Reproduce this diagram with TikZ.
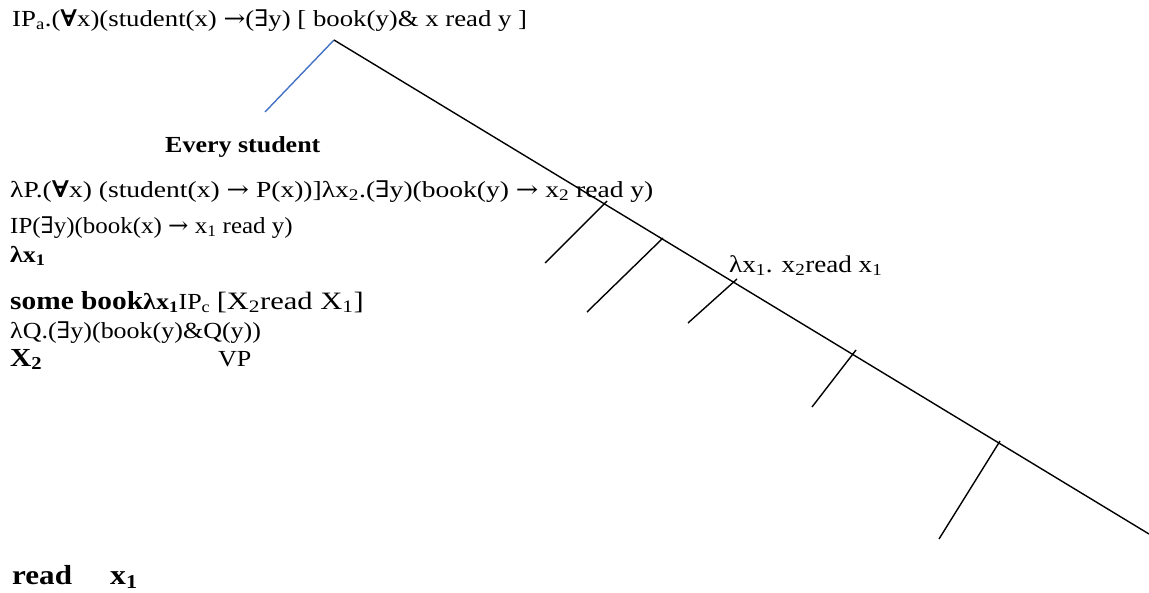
\documentclass[tikz,border=0pt]{standalone}
\usepackage{graphicx}
\usepackage{fontspec}
\setmainfont[FakeStretch=1.13]{Liberation Serif}
\newfontfamily\symf[FakeStretch=1.1]{DejaVu Serif}
\newcommand{\fa}{{\symf\bfseries ∀}}
\newcommand{\ex}{{\symf ∃}}
\newcommand{\ar}{{\symf →}}
\newcommand{\sbs}[1]{\textsubscript{#1}}
\begin{document}
\begin{tikzpicture}[x=1pt,y=-1pt,
  txt/.style={anchor=base west,inner sep=0pt,font=\fontsize{23}{27}\selectfont},
  big/.style={anchor=base west,inner sep=0pt,font=\fontsize{26}{30}\selectfont\bfseries},
  mainline/.style={line width=1.4pt,black},
  bluel/.style={line width=1.4pt,color={rgb,255:red,68;green,114;blue,196}}]
\useasboundingbox (0,0) rectangle (1149,592);
% texts
\node[txt] (t1) at (12,26) {\scalebox{1.03}[1]{IP\sbs{a}.(\fa x)(student(x) \ar(\ex y) [ book(y)\& x read y ]}};
\node[txt,font=\fontsize{23}{27}\selectfont\bfseries] (t2) at (165,152) {Every student};
\node[txt] (t3) at (10,197) {\scalebox{1.06}[1]{λP.(\fa x) (student(x) \ar{} P(x))]λx\sbs{2}.(\ex y)(book(y) \ar{} x\sbs{2} read y)}};
\node[txt] (t4) at (10,233) {\scalebox{0.96}[1]{IP(\ex y)(book(x) \ar{} x\sbs{1} read y)}};
\node[txt,font=\fontsize{23}{27}\selectfont\bfseries] (t5) at (10,262) {λx\sbs{1}};
\node[big] (t6) at (10,309) {some book{\fontsize{23}{27}\selectfont λx\sbs{1}}{\mdseries\fontsize{23}{27}\selectfont IP\sbs{c} }{\mdseries\fontsize{25}{30}\selectfont\scalebox{1.08}[1]{[X\sbs{2}read X\sbs{1}]}}};
\node[txt] (t7) at (10,338) {λQ.(\ex y)(book(y)\&Q(y))};
\node[big] (t8) at (10,366) {X\sbs{2}};
\node[txt] (t9) at (218,366) {VP};
\node[big,font=\fontsize{27.5}{30}\selectfont\bfseries] (t10) at (12,584) {read};
\node[big,font=\fontsize{28}{30}\selectfont\bfseries] (t11) at (110,584) {x\sbs{1}};
\node[txt,font=\fontsize{24}{28}\selectfont] (t12) at (729,272) {λx\sbs{1}. x\sbs{2}read x\sbs{1}};
% tree
\coordinate (apex) at (334,40);
\coordinate (bl) at (265,112);
\coordinate (end) at (1149,534);
\coordinate (b1t) at (607,201);
\coordinate (b1b) at (545,263);
\coordinate (b2t) at (663,238);
\coordinate (b2b) at (587,312);
\coordinate (b3t) at (737,279);
\coordinate (b3b) at (688,323);
\coordinate (b4t) at (856,350);
\coordinate (b4b) at (812,407);
\coordinate (b5t) at (1000,441);
\coordinate (b5b) at (939,539);
\draw[bluel] (apex) -- (bl);
\draw[mainline] (apex) -- (end);
\draw[mainline] (b1t) -- (b1b);
\draw[mainline] (b2t) -- (b2b);
\draw[mainline] (b3t) -- (b3b);
\draw[mainline] (b4t) -- (b4b);
\draw[mainline] (b5t) -- (b5b);
\end{tikzpicture}
\end{document}
